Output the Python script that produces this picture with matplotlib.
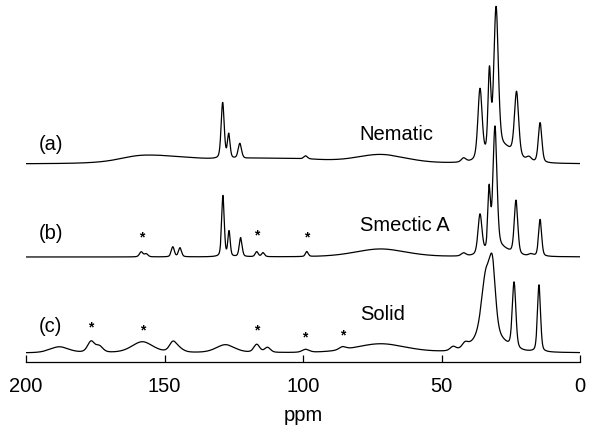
import numpy as np
import matplotlib
matplotlib.use('Agg')
import matplotlib.pyplot as plt

plt.rcParams['font.family'] = ['Liberation Sans', 'DejaVu Sans']

# peak tables: position (ppm), height, width (ppm)
nem_pos = [160, 150, 118, 100, 129.0, 126.8, 122.8, 99.0, 72, 42.0,
           36.1, 32.7, 30.3, 28.0, 22.9, 18.4, 14.4]
nem_hgt = [3, 7, 4, 3, 56, 24, 15, 3, 9, 4,
           70, 80, 142, 15, 64, 4, 40]
nem_wid = [15, 30, 30, 25, 1.3, 1.1, 1.4, 1.5, 22, 2.0,
           1.8, 1.2, 1.9, 10.0, 1.8, 2.0, 1.5]

sma_pos = [158.4, 156.6, 147.0, 144.4, 128.9, 126.7, 122.5, 116.7, 114.4, 98.6,
           72, 42.0, 36.1, 32.8, 30.7, 29.0, 23.1, 17.7, 14.4]
sma_hgt = [5, 3, 10, 9, 61, 25, 19, 5, 4, 5,
           8, 3, 40, 60, 122, 8, 54, 2, 37]
sma_wid = [1.5, 1.5, 1.3, 1.3, 1.1, 1.0, 1.2, 1.3, 1.3, 1.2,
           22, 2.0, 1.7, 1.1, 1.7, 8.0, 1.5, 2.0, 1.3]

sol_pos = [188, 176.5, 173.5, 158, 147, 145, 128, 116.7, 112.8, 99,
           85.7, 72, 45.8, 41.5, 34.0, 31.6, 33.0, 23.8, 14.8]
sol_hgt = [6, 11, 6, 11, 9, 4, 8, 8, 5, 3,
           3, 9, 4, 5, 56, 60, 20, 66, 67]
sol_wid = [8, 3, 3, 9, 3, 4, 8, 2.5, 2.5, 3,
           3, 22, 2.5, 2.5, 3.6, 2.6, 11, 1.5, 1.3]

offsets = [198, 105, 9]
trace_labels = ['(a)', '(b)', '(c)']
phase_labels = ['Nematic', 'Smectic A', 'Solid']

# spinning sidebands marked with asterisks
star_ppm = [158.4, 116.6, 98.6, 176.5, 157.9, 116.6, 99.3, 85.7]
star_y = [125, 127, 125, 35, 32, 32, 25, 27]

ppm = np.linspace(0, 200, 8001)


def line_shape(x, pos, hgt, wid, eta=0.35):
    y = np.zeros_like(x)
    for p, h, w in zip(pos, hgt, wid):
        d = (x - p) / (w / 2)
        y += h * ((1 - eta) * np.exp(-np.log(2) * d ** 2) + eta / (1 + d ** 2))
    return y


spectra = [
    line_shape(ppm, nem_pos, nem_hgt, nem_wid),
    line_shape(ppm, sma_pos, sma_hgt, sma_wid),
    line_shape(ppm, sol_pos, sol_hgt, sol_wid),
]

fig = plt.figure(figsize=(5.9, 4.26), dpi=100)
ax = fig.add_axes([26 / 590, 1 - 362 / 426, 554 / 590, 362 / 426])

for spec, off in zip(spectra, offsets):
    ax.plot(ppm, spec + off, color='black', linewidth=0.9)

label_y = [217, 129, 35]
phase_y = [227, 137, 47]
for lab, ph, ly, py in zip(trace_labels, phase_labels, label_y, phase_y):
    ax.text(195.5, ly, lab, fontsize=14.5, ha='left', va='center')
    ax.text(79.5, py, ph, fontsize=14.5, ha='left', va='center')

for sx, sy in zip(star_ppm, star_y):
    ax.text(sx, sy, '*', fontsize=10, fontweight='bold', ha='center', va='center')

ax.set_xlim(200, 0)
ax.set_ylim(0, 362)
ax.set_xticks([200, 150, 100, 50, 0])
ax.set_yticks([])
for side in ['top', 'left', 'right']:
    ax.spines[side].set_visible(False)
ax.spines['bottom'].set_linewidth(0.9)
ax.tick_params(axis='x', direction='in', length=5, width=0.9, labelsize=14.5, pad=11)
ax.set_xlabel('ppm', fontsize=14.5, labelpad=7)
ax.patch.set_alpha(0)

fig.savefig('out.png', dpi=100)
